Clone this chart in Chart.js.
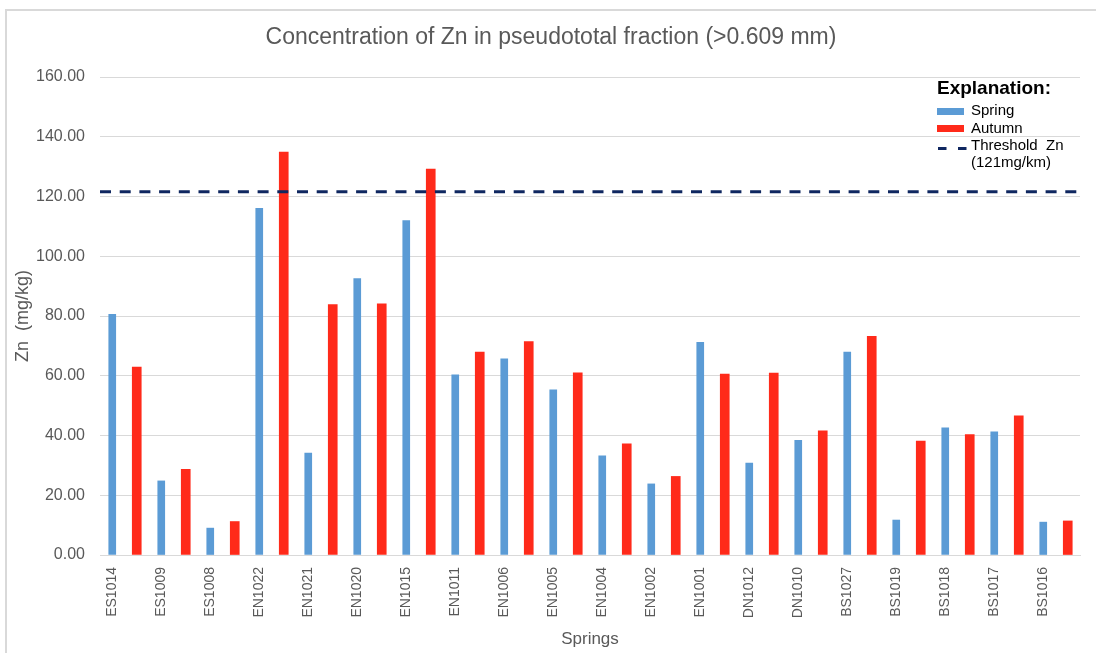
<!DOCTYPE html>
<html>
<head>
<meta charset="utf-8">
<script src="https://cdn.jsdelivr.net/npm/chart.js@4"></script>
<style>
  body { margin: 0; overflow: hidden; background: #fff; }
  #frame {
    position: absolute; left: 5px; top: 9px; width: 1200px; height: 800px;
    border: 2px solid #d9d9d9; pointer-events: none;
  }
  canvas { position: absolute; left: 0; top: 0; }
</style>
</head>
<body>
<canvas id="zn" width="1096" height="653"></canvas>
<div id="frame"></div>
<script>
const springs = ["ES1014", "ES1009", "ES1008", "EN1022", "EN1021", "EN1020", "EN1015",
  "EN1011", "EN1006", "EN1005", "EN1004", "EN1002", "EN1001", "DN1012", "DN1010",
  "BS1027", "BS1019", "BS1018", "BS1017", "BS1016"];
const springValues = [80.6, 24.8, 9.0, 116.0, 34.1, 92.5, 111.9, 60.3, 65.7, 55.3,
  33.2, 23.8, 71.2, 30.8, 38.4, 67.9, 11.7, 42.6, 41.2, 11.0];
const autumnValues = [62.9, 28.7, 11.2, 134.9, 83.8, 84.1, 129.2, 67.9, 71.4, 61.0,
  37.2, 26.3, 60.6, 60.9, 41.6, 73.2, 38.1, 40.3, 46.6, 11.4];
const threshold = 121.6;
const yTicks = [0, 20, 40, 60, 80, 100, 120, 140, 160];

// each spring gets two slots: spring sample (labelled) then autumn sample
const labels = [];
const springData = [];
const autumnData = [];
springs.forEach((name, i) => {
  labels.push(name, "");
  springData.push(springValues[i], null);
  autumnData.push(null, autumnValues[i]);
});

const FONT = "'Liberation Sans', Arial, sans-serif";
const GREY = "#595959";
const BLUE = "#5B9BD5";
const RED = "#FF2A1A";
const NAVY = "#0F2760";

const legendPlugin = {
  id: "explanation",
  afterDraw(chart) {
    const ctx = chart.ctx;
    const ca = chart.chartArea;
    const x0 = ca.right - 143;
    const tx = x0 + 34;
    ctx.save();
    ctx.fillStyle = "#000";
    ctx.textBaseline = "middle";
    ctx.textAlign = "left";
    ctx.font = "bold 19px " + FONT;
    ctx.fillText("Explanation:", x0, ca.top + 12);

    ctx.fillStyle = BLUE;
    ctx.fillRect(x0, ca.top + 31, 27, 7);
    ctx.fillStyle = RED;
    ctx.fillRect(x0, ca.top + 48, 27, 7);

    ctx.strokeStyle = NAVY;
    ctx.lineWidth = 3;
    ctx.setLineDash([8.5, 11.5]);
    ctx.beginPath();
    ctx.moveTo(x0 + 1, ca.top + 71.5);
    ctx.lineTo(x0 + 30, ca.top + 71.5);
    ctx.stroke();

    ctx.fillStyle = "#000";
    ctx.font = "15px " + FONT;
    ctx.fillText("Spring", tx, ca.top + 34);
    ctx.fillText("Autumn", tx, ca.top + 52);
    ctx.fillText("Threshold  Zn", tx, ca.top + 69);
    ctx.fillText("(121mg/km)", tx, ca.top + 86);
    ctx.restore();
  },
};

new Chart(document.getElementById("zn"), {
  type: "bar",
  data: {
    labels: labels,
    datasets: [
      {
        type: "line",
        label: "Threshold Zn (121mg/km)",
        xAxisID: "xLine",
        data: [{ x: 0, y: threshold }, { x: 1, y: threshold }],
        borderColor: NAVY,
        borderWidth: 3,
        borderDash: [11, 8.7],
        pointRadius: 0,
        fill: false,
        order: 0,
      },
      {
        label: "Spring",
        data: springData,
        backgroundColor: BLUE,
        barThickness: 7,
        grouped: false,
        order: 1,
      },
      {
        label: "Autumn",
        data: autumnData,
        backgroundColor: RED,
        barThickness: 9,
        grouped: false,
        order: 1,
      },
    ],
  },
  options: {
    responsive: false,
    animation: false,
    layout: { padding: { left: 6, right: 0, top: 0, bottom: 0 } },
    plugins: {
      legend: { display: false },
      tooltip: { enabled: false },
      title: {
        display: true,
        text: "Concentration of Zn in pseudototal fraction (>0.609 mm)",
        color: GREY,
        font: { family: FONT, size: 23, weight: "normal" },
        padding: { top: 24, bottom: 25.4 },
      },
    },
    scales: {
      x: {
        grid: { display: false },
        border: { display: true, color: "#d9d9d9", width: 1 },
        ticks: {
          autoSkip: false,
          minRotation: 90,
          maxRotation: 90,
          padding: 4,
          color: GREY,
          font: { family: FONT, size: 14 },
        },
        title: {
          display: true,
          text: "Springs",
          color: GREY,
          font: { family: FONT, size: 17 },
          padding: { top: 0, bottom: 3 },
        },
        afterFit: (scale) => { scale.height = 98; },
      },
      xLine: {
        type: "linear",
        min: 0,
        max: 1,
        offset: false,
        display: false,
      },
      y: {
        min: 0,
        max: 160,
        afterBuildTicks: (scale) => {
          scale.ticks = yTicks.map((v) => ({ value: v }));
        },
        grid: { color: "#d9d9d9", lineWidth: 1, drawTicks: false },
        border: { display: false },
        ticks: {
          padding: 15,
          color: GREY,
          font: { family: FONT, size: 16 },
          callback: (value) => value.toFixed(2),
        },
        title: {
          display: true,
          text: "Zn  (mg/kg)",
          color: GREY,
          font: { family: FONT, size: 18 },
          padding: { top: 6, bottom: 0 },
        },
        afterFit: (scale) => { scale.width = 94; },
      },
      // empty right-hand strip, keeps the plot 16px from the edge
      yPad: {
        type: "linear",
        position: "right",
        grid: { display: false },
        border: { display: false },
        ticks: { display: false },
        afterFit: (scale) => { scale.width = 16; },
      },
    },
  },
  plugins: [legendPlugin],
});
</script>
</body>
</html>
